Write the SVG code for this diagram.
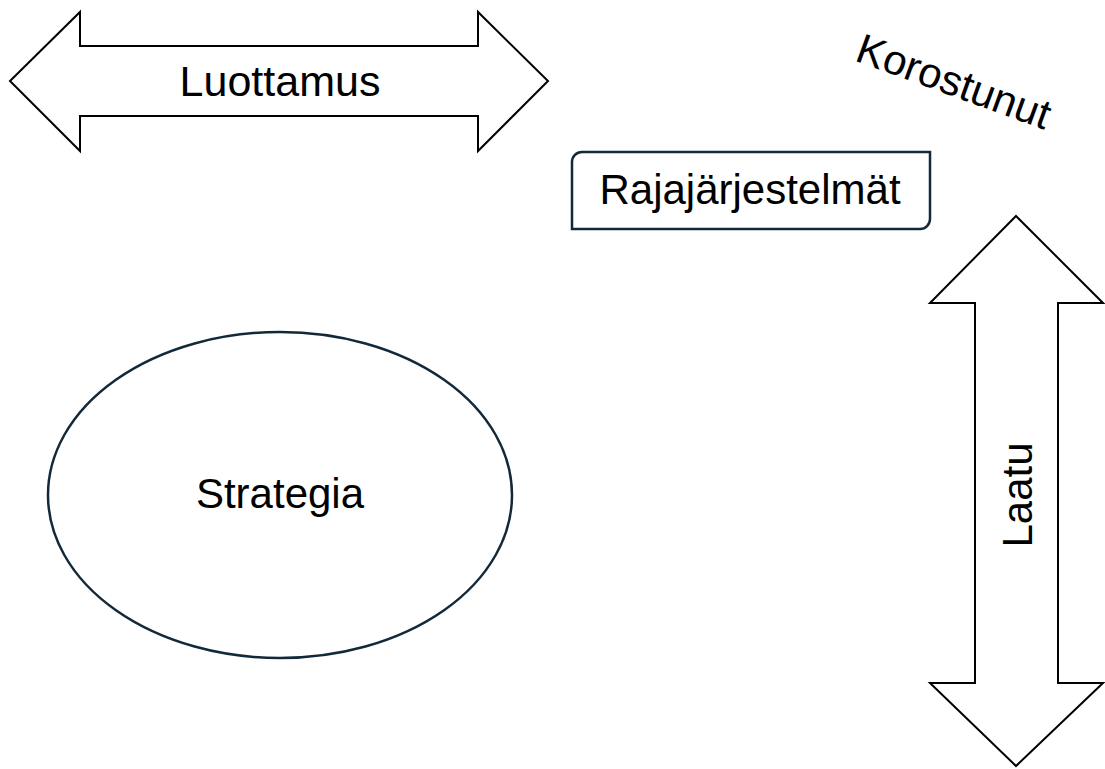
<svg xmlns="http://www.w3.org/2000/svg" width="1105" height="769" viewBox="0 0 1105 769">
  <style>
    .label { font-family: "Liberation Sans", Arial, sans-serif; font-size: 42px; fill: #000; text-anchor: middle; }
    .arrow { fill: #fff; stroke: #000; stroke-width: 2; stroke-linejoin: miter; }
    .navy { fill: #fff; stroke: #12293a; stroke-width: 2.5; }
  </style>
  <rect width="1105" height="769" fill="#fff"/>

  <!-- horizontal double arrow -->
  <g id="luottamus">
    <path class="arrow" d="M10 81 L80 12 V46 H478 V12 L548 81 L478 151 V116 H80 V151 Z"/>
    <text class="label" x="280" y="96" style="font-size:43px">Luottamus</text>
  </g>

  <!-- rotated caption -->
  <g id="korostunut">
    <text class="label" transform="translate(949 95) rotate(20)" x="0" y="0">Korostunut</text>
  </g>

  <!-- rounded-diagonal box -->
  <g id="rajajarjestelmat">
    <path class="navy" stroke-width="2.2" d="M582 152 H930 V219 A10 10 0 0 1 920 229 H572 V162 A10 10 0 0 1 582 152 Z"/>
    <text class="label" x="750" y="204">Rajajärjestelmät</text>
  </g>

  <!-- vertical double arrow -->
  <g id="laatu">
    <path class="arrow" d="M1016 216 L1103 303 H1058 V683 H1103 L1016 766 L930 683 H975 V303 H930 Z"/>
    <text class="label" transform="translate(1032 495) rotate(-90)" x="0" y="0">Laatu</text>
  </g>

  <!-- ellipse -->
  <g id="strategia">
    <ellipse class="navy" cx="280" cy="495" rx="232" ry="163"/>
    <text class="label" x="280" y="508">Strategia</text>
  </g>

  <g id="connectors"></g>
</svg>
